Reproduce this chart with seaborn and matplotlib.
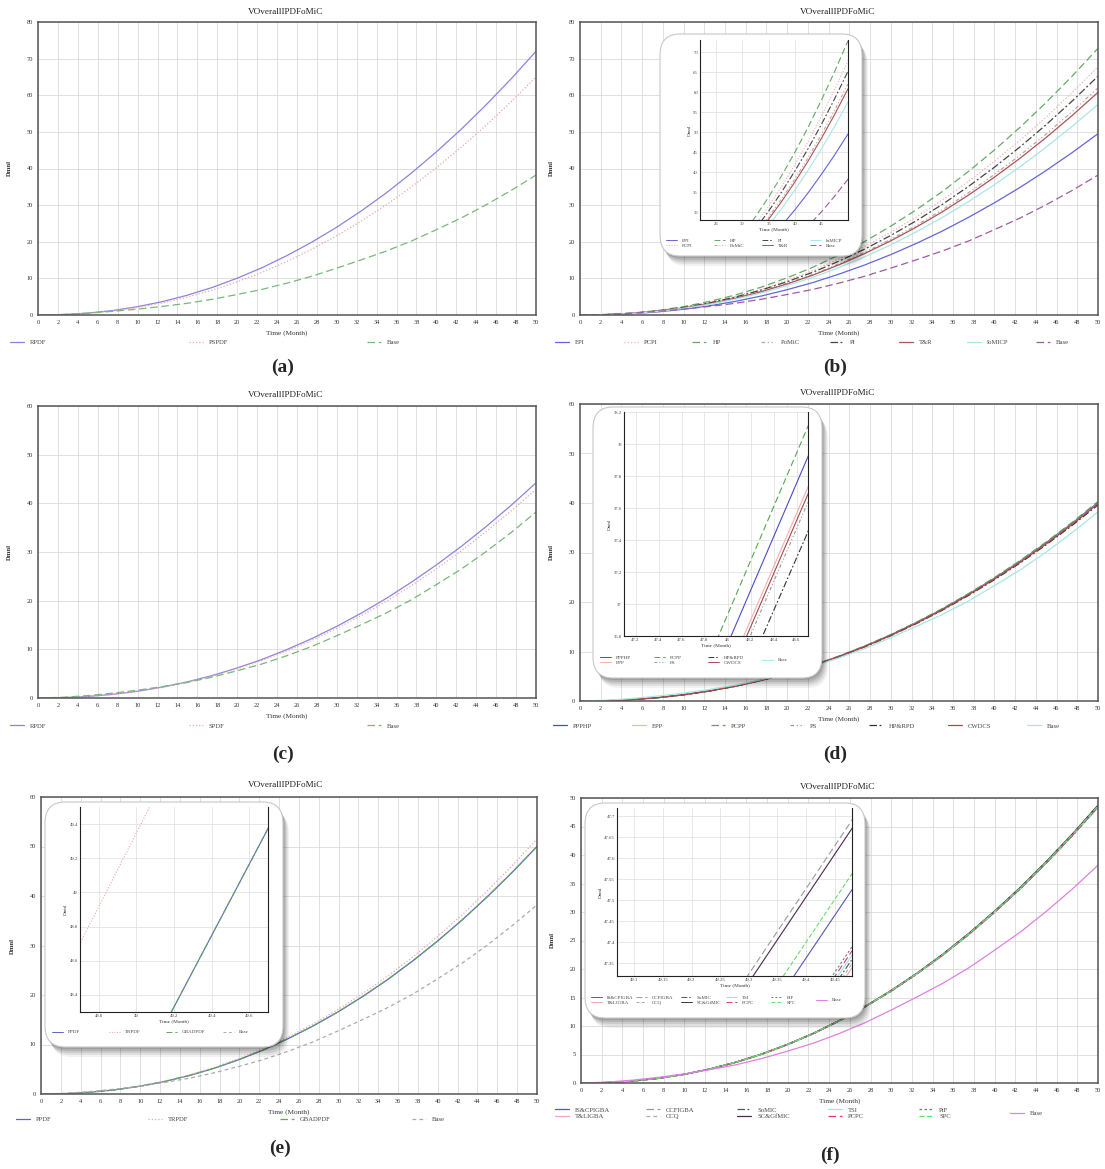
import numpy as np
import matplotlib
matplotlib.use("Agg")
import matplotlib.pyplot as plt
import seaborn as sns
from matplotlib.patches import FancyBboxPatch
from matplotlib.lines import Line2D

# ---------------- data ----------------
TIME = [0, 2.5, 5, 7.5, 10, 12.5, 15, 17.5, 20, 22.5, 25, 27.5, 30, 32.5, 35, 37.5, 40, 42.5, 45, 47.5, 50]
TITLE = "VOverallIPDFoMiC"

BASE = [0, 0.15, 0.5, 1.0, 1.6, 2.35, 3.2, 4.3, 5.6, 7.0, 8.7, 10.6, 12.8, 15.1, 17.5, 20.2, 23.3, 26.5, 30.1, 34.0, 38.2]

# (a)
A_RPDF = [0, 0.12, 0.51, 1.22, 2.27, 3.66, 5.41, 7.53, 10.05, 12.92, 16.23, 19.90, 23.99, 28.49, 33.40, 38.77, 44.55, 50.74, 57.41, 64.48, 72.0]
A_PSPDF = [0, 0.10, 0.46, 1.10, 2.05, 3.30, 4.88, 6.80, 9.07, 11.66, 14.65, 17.97, 21.66, 25.72, 30.15, 35.00, 40.22, 45.81, 51.82, 58.21, 65.0]

# (b)
B_EPI = [0, 0.08, 0.35, 0.84, 1.56, 2.51, 3.72, 5.18, 6.91, 8.88, 11.16, 13.68, 16.49, 19.59, 22.96, 26.66, 30.63, 34.88, 39.47, 44.33, 49.5]
B_PCPI = [0, 0.11, 0.48, 1.15, 2.14, 3.44, 5.09, 7.09, 9.46, 12.16, 15.28, 18.74, 22.59, 26.83, 31.45, 36.51, 41.95, 47.78, 54.06, 60.72, 67.8]
B_HP = [0, 0.12, 0.52, 1.23, 2.29, 3.70, 5.47, 7.61, 10.16, 13.06, 16.41, 20.12, 24.26, 28.81, 33.77, 39.20, 45.05, 51.30, 58.04, 65.20, 72.8]
B_POMIC = [0, 0.10, 0.44, 1.05, 1.95, 3.15, 4.66, 6.49, 8.66, 11.12, 13.97, 17.14, 20.66, 24.53, 28.76, 33.39, 38.37, 43.69, 49.43, 55.53, 62.0]
B_PI = [0, 0.10, 0.46, 1.10, 2.05, 3.31, 4.90, 6.82, 9.10, 11.70, 14.70, 18.02, 21.72, 25.80, 30.25, 35.11, 40.35, 45.95, 51.98, 58.39, 65.2]
B_TR = [0, 0.10, 0.43, 1.03, 1.92, 3.09, 4.57, 6.36, 8.49, 10.91, 13.70, 16.81, 20.26, 24.06, 28.21, 32.74, 37.62, 42.85, 48.48, 54.45, 60.8]
B_IOMICP = [0, 0.09, 0.41, 0.97, 1.81, 2.92, 4.32, 6.01, 8.03, 10.32, 12.96, 15.89, 19.16, 22.75, 26.67, 30.96, 35.58, 40.52, 45.84, 51.50, 57.5]

# (c)
C_RPDF = [0, 0.07, 0.31, 0.75, 1.39, 2.25, 3.32, 4.62, 6.17, 7.93, 9.96, 12.22, 14.73, 17.49, 20.50, 23.80, 27.35, 31.15, 35.24, 39.59, 44.2]
C_SPDF = [0, 0.07, 0.30, 0.73, 1.35, 2.18, 3.22, 4.49, 5.99, 7.70, 9.67, 11.86, 14.29, 16.98, 19.90, 23.10, 26.55, 30.23, 34.20, 38.42, 42.9]

# (d)
D_PPPHP = [0, 0.06, 0.28, 0.68, 1.26, 2.04, 3.01, 4.19, 5.60, 7.19, 9.04, 11.08, 13.36, 15.87, 18.60, 21.59, 24.81, 28.26, 31.97, 35.91, 40.1]
D_EPP = [0, 0.06, 0.28, 0.67, 1.26, 2.03, 3.00, 4.17, 5.57, 7.16, 8.99, 11.03, 13.29, 15.79, 18.51, 21.49, 24.69, 28.12, 31.81, 35.73, 39.9]
D_PCPP = [0, 0.06, 0.29, 0.68, 1.27, 2.05, 3.03, 4.22, 5.63, 7.23, 9.08, 11.14, 13.43, 15.95, 18.70, 21.70, 24.94, 28.40, 32.13, 36.09, 40.3]
D_PS = [0, 0.06, 0.28, 0.67, 1.25, 2.02, 2.99, 4.16, 5.56, 7.14, 8.97, 11.00, 13.26, 15.75, 18.46, 21.43, 24.63, 28.05, 31.73, 35.64, 39.8]
D_HPRPD = [0, 0.06, 0.28, 0.67, 1.25, 2.01, 2.97, 4.14, 5.53, 7.10, 8.93, 10.95, 13.19, 15.67, 18.37, 21.32, 24.50, 27.91, 31.57, 35.47, 39.6]
D_CWDCS = [0, 0.06, 0.28, 0.67, 1.26, 2.02, 2.99, 4.17, 5.56, 7.15, 8.98, 11.01, 13.28, 15.77, 18.49, 21.46, 24.66, 28.08, 31.77, 35.69, 39.85]

# (e)
E_PPDF = [0, 0.08, 0.36, 0.85, 1.58, 2.54, 3.76, 5.23, 6.98, 8.97, 11.27, 13.82, 16.66, 19.79, 23.20, 26.93, 30.94, 35.24, 39.87, 44.78, 50.0]
E_TRPDF = [0, 0.08, 0.37, 0.87, 1.62, 2.62, 3.87, 5.39, 7.19, 9.24, 11.61, 14.23, 17.16, 20.38, 23.89, 27.73, 31.87, 36.29, 41.06, 46.12, 51.5]
E_GBADPDF = [0, 0.08, 0.36, 0.85, 1.58, 2.54, 3.76, 5.23, 6.98, 8.97, 11.27, 13.82, 16.66, 19.79, 23.20, 26.93, 30.94, 35.24, 39.87, 44.78, 50.0]

# (f)
F_ISCPIGBA = [0, 0.08, 0.34, 0.82, 1.53, 2.47, 3.65, 5.08, 6.78, 8.72, 10.95, 13.43, 16.19, 19.22, 22.54, 26.16, 30.06, 34.23, 38.73, 43.51, 48.58]
F_TLIGBA = [0, 0.08, 0.34, 0.82, 1.52, 2.46, 3.64, 5.06, 6.76, 8.68, 10.91, 13.38, 16.13, 19.16, 22.46, 26.07, 29.96, 34.11, 38.60, 43.34, 48.39]
F_CCFIGBA = [0, 0.08, 0.35, 0.82, 1.54, 2.48, 3.66, 5.10, 6.81, 8.75, 10.99, 13.47, 16.24, 19.29, 22.62, 26.25, 30.17, 34.35, 38.87, 43.66, 48.75]
F_CCQ = [0, 0.08, 0.34, 0.82, 1.52, 2.46, 3.64, 5.06, 6.76, 8.68, 10.91, 13.38, 16.13, 19.16, 22.46, 26.07, 29.96, 34.11, 38.60, 43.35, 48.40]
F_SOMIC = [0, 0.08, 0.34, 0.82, 1.52, 2.46, 3.64, 5.06, 6.76, 8.68, 10.91, 13.38, 16.13, 19.16, 22.46, 26.07, 29.96, 34.11, 38.60, 43.36, 48.41]
F_SCGFMIC = [0, 0.08, 0.35, 0.82, 1.54, 2.48, 3.66, 5.10, 6.80, 8.74, 10.98, 13.47, 16.24, 19.28, 22.61, 26.24, 30.15, 34.34, 38.85, 43.64, 48.73]
F_TSI = [0, 0.08, 0.34, 0.82, 1.52, 2.46, 3.64, 5.06, 6.76, 8.68, 10.91, 13.38, 16.13, 19.16, 22.46, 26.07, 29.96, 34.11, 38.60, 43.37, 48.42]
F_PCPC = [0, 0.08, 0.34, 0.82, 1.52, 2.46, 3.64, 5.06, 6.76, 8.68, 10.91, 13.38, 16.13, 19.16, 22.46, 26.07, 29.96, 34.11, 38.61, 43.38, 48.43]
F_PTF = [0, 0.08, 0.34, 0.82, 1.52, 2.46, 3.64, 5.06, 6.76, 8.68, 10.91, 13.38, 16.13, 19.16, 22.46, 26.07, 29.96, 34.12, 38.61, 43.39, 48.44]
F_SPC = [0, 0.08, 0.35, 0.82, 1.53, 2.47, 3.65, 5.09, 6.79, 8.72, 10.96, 13.44, 16.20, 19.24, 22.55, 26.18, 30.09, 34.26, 38.76, 43.54, 48.62]

X_TICKS = list(range(0, 51, 2))

# inset windows (zoomed regions shown on the cards)
B_INSET_X = [22, 50]
B_INSET_Y = [28, 73]
B_INSET_XT = [25, 30, 35, 40, 45]
B_INSET_YT = [30, 35, 40, 45, 50, 55, 60, 65, 70]
D_INSET_X = [47.1, 48.7]
D_INSET_Y = [36.8, 38.2]
D_INSET_XT = [47.2, 47.4, 47.6, 47.8, 48, 48.2, 48.4, 48.6]
D_INSET_YT = [36.8, 37, 37.2, 37.4, 37.6, 37.8, 38, 38.2]
E_INSET_X = [48.7, 49.7]
E_INSET_Y = [48.3, 49.5]
E_INSET_XT = [48.8, 49, 49.2, 49.4, 49.6]
E_INSET_YT = [48.4, 48.6, 48.8, 49, 49.2, 49.4]
F_INSET_X = [49.07, 49.48]
F_INSET_Y = [47.32, 47.72]
F_INSET_XT = [49.1, 49.15, 49.2, 49.25, 49.3, 49.35, 49.4, 49.45]
F_INSET_YT = [47.35, 47.4, 47.45, 47.5, 47.55, 47.6, 47.65, 47.7]

# ---------------- styling ----------------
SOLID = "-"
DOT = (0, (1, 1.6))
DASH = (0, (6, 3))
SDASH = (0, (3, 2.5))
DASHDOT = (0, (6, 2, 1.5, 2))
DASHDOT2 = (0, (3, 2, 1, 2, 1, 2))

SER_A = [("RPDF", A_RPDF, "#8a84e0", SOLID), ("PSPDF", A_PSPDF, "#f2a6a6", DOT), ("Base", BASE, "#78b878", DASH)]
SER_B = [("EPI", B_EPI, "#6464dc", SOLID), ("PCPI", B_PCPI, "#f4b0b0", DOT), ("HP", B_HP, "#66aa66", DASH),
         ("PoMiC", B_POMIC, "#c8a0a0", DASHDOT2), ("PI", B_PI, "#444444", DASHDOT), ("T&R", B_TR, "#aa5555", SOLID),
         ("IoMICP", B_IOMICP, "#aae6e6", SOLID), ("Base", BASE, "#a05aa0", DASH)]
SER_C = [("RPDF", C_RPDF, "#8a84e0", SOLID), ("SPDF", C_SPDF, "#f2a6a6", DOT), ("Base", BASE, "#78b878", DASH)]
SER_D = [("PPPHP", D_PPPHP, "#4a4ac8", SOLID), ("EPP", D_EPP, "#f4b0b0", SOLID), ("PCPP", D_PCPP, "#55a555", DASH),
         ("PS", D_PS, "#999999", DASHDOT2), ("HP&RPD", D_HPRPD, "#333333", DASHDOT), ("CWDCS", D_CWDCS, "#a84848", SOLID),
         ("Base", BASE, "#aae6e6", SOLID)]
SER_E = [("PPDF", E_PPDF, "#6060d0", SOLID), ("TRPDF", E_TRPDF, "#f2a6a6", DOT), ("GBADPDF", E_GBADPDF, "#60a860", DASH),
         ("Base", BASE, "#aaaaaa", SDASH)]
SER_F = [("IS&CPIGBA", F_ISCPIGBA, "#5555c0", SOLID), ("T&LIGBA", F_TLIGBA, "#f4a8b8", SOLID),
         ("CCFIGBA", F_CCFIGBA, "#999999", DASH), ("CCQ", F_CCQ, "#aaaaaa", SDASH),
         ("SoMIC", F_SOMIC, "#555555", DASHDOT), ("SC&GfMIC", F_SCGFMIC, "#4a2a4a", SOLID),
         ("TSI", F_TSI, "#a8e0f0", SOLID), ("PCPC", F_PCPC, "#d04070", DASH),
         ("PtF", F_PTF, "#777777", (0, (2, 2))), ("SPC", F_SPC, "#66dd66", (0, (4, 2))),
         ("Base", BASE, "#e080e0", SOLID)]

sns.set_theme(style="white")
plt.rcParams["font.family"] = ["Liberation Serif", "DejaVu Serif"]

W, H = 1105, 1169
fig = plt.figure(figsize=(W / 100, H / 100), dpi=100)
fig.patch.set_facecolor("white")


def rect(x0, y0, x1, y1):
    return [x0 / W, 1 - y1 / H, (x1 - x0) / W, (y1 - y0) / H]


def col_legends(series, ncol, rows, x_start, spacing, yc, fs, hl, lw, zorder=2):
    for j in range(ncol):
        items = series[j * rows:(j + 1) * rows]
        if not items:
            continue
        h = [Line2D([], [], color=c, linestyle=ls, linewidth=lw) for _, _, c, ls in items]
        l = [n for n, _, _, _ in items]
        lg = fig.legend(h, l, loc="center left", bbox_to_anchor=((x_start + j * spacing) / W, 1 - yc / H),
                        ncol=1, frameon=False, fontsize=fs, handlelength=hl, handletextpad=0.9,
                        borderaxespad=0, borderpad=0, labelspacing=0.1, labelcolor="#444444")
        lg.set_zorder(zorder)


def main_panel(box, ymax, ystep, series, leg, title_x, title_y, label, label_xy):
    x0, y0, x1, y1 = box
    ax = fig.add_axes(rect(x0, y0, x1, y1))
    for name, vals, color, ls in series:
        sns.lineplot(x=TIME, y=vals, ax=ax, color=color, linestyle=ls, linewidth=0.9)
    ax.set_xlim(0, 50)
    ax.set_ylim(0, ymax)
    ax.set_xticks(X_TICKS)
    ax.set_xticklabels([str(v) for v in X_TICKS])
    yt = list(range(0, ymax + 1, ystep))
    ax.set_yticks(yt)
    ax.set_yticklabels([str(v) for v in yt])
    ax.grid(True, color="#dadada", linewidth=0.6)
    ax.set_axisbelow(True)
    for s in ax.spines.values():
        s.set_color("#555555")
        s.set_linewidth(1.1)
    ax.tick_params(labelsize=4.6, length=2, width=0.5, pad=1.5, colors="#333333")
    ax.set_xlabel("Time (Month)", fontsize=5.2, color="#333333")
    ax.set_ylabel("Dmnl", fontsize=4.8, fontweight="bold", color="#333333")
    ax.xaxis.set_label_coords(0.5, -15 / (y1 - y0))
    ax.yaxis.set_label_coords(-26 / (x1 - x0), 0.5)
    fig.text(title_x / W, 1 - title_y / H, TITLE, fontsize=6.6, ha="center", va="center", color="#222222")
    ncol, rows, xs, sp, yc = leg
    col_legends(series, ncol, rows, xs, sp, yc, 4.8, 2.1, 0.9)
    fig.text(label_xy[0] / W, 1 - label_xy[1] / H, label, fontsize=14, fontweight="bold",
             ha="center", va="center")
    return ax


def card(box):
    x0, y0, x1, y1 = box
    rs = 20 / W
    for k, a in [(10, 0.05), (8, 0.07), (6, 0.09), (4, 0.11), (2, 0.12)]:
        sh = FancyBboxPatch((x0 / W + 0.6 * k / W, 1 - (y1 + k) / H), (x1 - x0) / W, (y1 - y0) / H,
                            boxstyle=f"round,pad=0,rounding_size={rs}", transform=fig.transFigure,
                            facecolor="black", edgecolor="none", alpha=a, zorder=3)
        fig.add_artist(sh)
    p = FancyBboxPatch((x0 / W, 1 - y1 / H), (x1 - x0) / W, (y1 - y0) / H,
                       boxstyle=f"round,pad=0,rounding_size={rs}", transform=fig.transFigure,
                       facecolor="white", edgecolor="#c8c8c8", linewidth=0.8, zorder=4)
    fig.add_artist(p)


def inset(box, axbox, series, xlim, ylim, xt, yt, leg):
    card(box)
    x0, y0, x1, y1 = axbox
    ax = fig.add_axes(rect(x0, y0, x1, y1), zorder=6)
    ax.set_facecolor("white")
    for name, vals, color, ls in series:
        sns.lineplot(x=TIME, y=vals, ax=ax, color=color, linestyle=ls, linewidth=0.8)
    ax.set_xlim(*xlim)
    ax.set_ylim(*ylim)
    ax.set_xticks(xt)
    ax.set_xticklabels([f"{v:g}" for v in xt])
    ax.set_yticks(yt)
    ax.set_yticklabels([f"{v:g}" for v in yt])
    ax.grid(True, color="#dddddd", linewidth=0.5)
    ax.spines["top"].set_visible(False)
    for s in ["left", "bottom", "right"]:
        ax.spines[s].set_color("#222222")
        ax.spines[s].set_linewidth(0.8)
    ax.tick_params(labelsize=3.4, length=0, pad=1.5, colors="#444444")
    ax.set_xlabel("Time (Month)", fontsize=3.8, labelpad=1, color="#333333")
    ax.set_ylabel("Dmnl", fontsize=3.6, labelpad=1, color="#333333")
    ncol, rows, xs, sp, yc = leg
    col_legends(series, ncol, rows, xs, sp, yc, 3.6, 2.2, 0.7, zorder=7)
    return ax


# (a)
main_panel((38, 22, 536, 315), 80, 10, SER_A, (3, 1, 10, 178.5, 342), 286, 12, "(a)", (283, 367))
# (b)
main_panel((580, 22, 1098, 315), 80, 10, SER_B, (8, 1, 555, 68.7, 342), 838, 12, "(b)", (835, 367))
inset((660, 34, 862, 256), (700, 40, 848, 220), SER_B, B_INSET_X, B_INSET_Y, B_INSET_XT, B_INSET_YT,
      (4, 2, 666, 48, 243))
# (c)
main_panel((38, 406, 536, 698), 60, 10, SER_C, (3, 1, 10, 178.5, 726), 286, 395, "(c)", (283, 754))
# (d)
main_panel((580, 404, 1098, 701), 60, 10, SER_D, (7, 1, 553, 79, 726), 838, 393, "(d)", (835, 754))
inset((593, 407, 822, 678), (624, 412, 808, 636), SER_D, D_INSET_X, D_INSET_Y, D_INSET_XT, D_INSET_YT,
      (4, 2, 600, 54, 660))
# (e)
main_panel((41, 797, 537, 1094), 60, 10, SER_E, (4, 1, 16, 132, 1119), 286, 785, "(e)", (280, 1148))
inset((45, 802, 283, 1047), (80, 807, 268, 1012), SER_E, E_INSET_X, E_INSET_Y, E_INSET_XT, E_INSET_YT,
      (4, 1, 52, 57, 1032))
# (f)
main_panel((581, 798, 1098, 1083), 50, 5, SER_F, (6, 2, 555, 91, 1113), 838, 787, "(f)", (830, 1155))
inset((585, 803, 865, 1018), (617, 808, 852, 976), SER_F, F_INSET_X, F_INSET_Y, F_INSET_XT, F_INSET_YT,
      (6, 2, 591, 45, 1000))

fig.savefig("out.png", dpi=100, facecolor="white")
